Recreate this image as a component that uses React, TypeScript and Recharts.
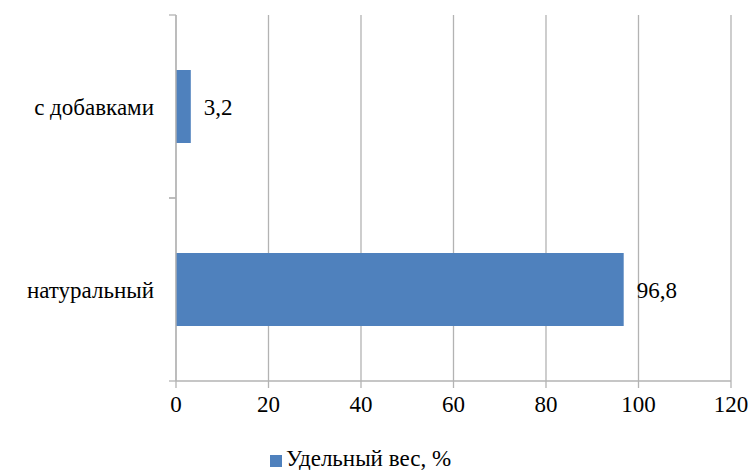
import React from 'react';
import { BarChart, Bar, XAxis, YAxis, CartesianGrid, Legend, LabelList } from 'recharts';

const categories = ['с добавками', 'натуральный'];
const shares = [3.2, 96.8];
const xTicks = [0, 20, 40, 60, 80, 100, 120];
const seriesName = 'Удельный вес, %';

const data = categories.map((name, i) => ({ name, value: shares[i] }));

const FONT = 'Liberation Serif';
const GRID = '#b3b3b3';

// category tick: label plus separator marks at the band edges
const CatTick = (props: any) => {
  const { x, y, payload } = props;
  const half = payload.offset || 0;
  return (
    <g>
      <line x1={x - 7} x2={x} y1={y - half} y2={y - half} stroke={GRID} strokeWidth={1.3} />
      <line x1={x - 7} x2={x} y1={y + half} y2={y + half} stroke={GRID} strokeWidth={1.3} />
      <text x={x - 22} y={y} dy="0.35em" textAnchor="end" fill="#000" fontSize={23} fontFamily={FONT}>
        {payload.value}
      </text>
    </g>
  );
};

const App: React.FC = () => (
  <div style={{ position: 'absolute', left: 0, top: 0, background: '#fff', fontFamily: FONT }}>
    <BarChart
      width={753}
      height={470}
      data={data}
      layout="vertical"
      barCategoryGap="30%"
      margin={{ top: 15, right: 22, left: 0, bottom: 15 }}
    >
      <CartesianGrid horizontal={false} stroke={GRID} strokeWidth={1.3} />
      <XAxis
        type="number"
        domain={[0, 120]}
        ticks={xTicks}
        interval={0}
        stroke={GRID}
        strokeWidth={1.3}
        tickSize={7}
        tickMargin={8}
        height={48}
        tick={{ fill: '#000', fontSize: 23, fontFamily: FONT }}
      />
      <YAxis
        type="category"
        dataKey="name"
        width={176}
        stroke={GRID}
        strokeWidth={1.3}
        tickLine={false}
        tickSize={0}
        tickMargin={0}
        tick={<CatTick />}
      />
      <Legend
        verticalAlign="bottom"
        align="center"
        iconType="square"
        iconSize={12}
        wrapperStyle={{ fontSize: 23, color: '#000', fontFamily: FONT, bottom: -2 }}
        formatter={(v: string) => <span style={{ color: '#000', fontFamily: FONT }}>{v}</span>}
      />
      <Bar dataKey="value" name={seriesName} fill="#4f81bd" isAnimationActive={false}>
        <LabelList
          dataKey="value"
          position="right"
          offset={13}
          formatter={(v: number) => String(v).replace('.', ',')}
          fill="#000"
          fontSize={23}
          fontFamily={FONT}
        />
      </Bar>
    </BarChart>
  </div>
);

export default App;
